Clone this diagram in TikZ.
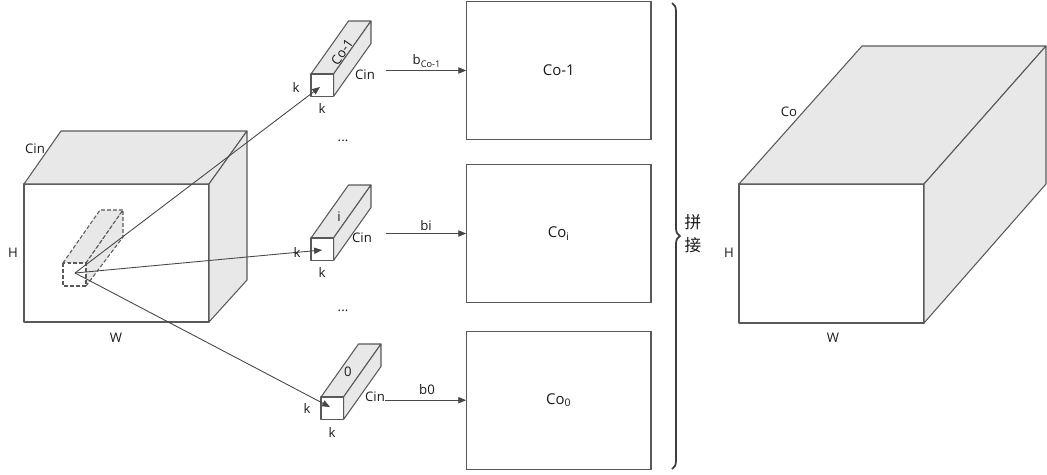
\documentclass[tikz,border=0pt]{standalone}
\usepackage{fontspec}
\setmainfont{Open Sans}
\newfontfamily\cjk{Noto Sans CJK SC}
\usetikzlibrary{arrows.meta,decorations.pathreplacing,positioning}
\definecolor{linegray}{HTML}{595959}
\definecolor{facegray}{HTML}{E8E8E8}
\definecolor{textgray}{HTML}{1A1A1A}

\begin{document}
\begin{tikzpicture}[x=0.02cm,y=-0.02cm]
\tikzstyle{every node}=[font=\fontsize{7.5}{9}\selectfont, text=textgray, inner sep=1pt]
\tikzstyle{face}=[draw=linegray, fill=facegray, line width=0.6pt, line join=round]
\tikzstyle{window}=[face, dash pattern=on 2.2pt off 1.2pt]
\tikzstyle{feed}=[draw=linegray!80!black, line width=0.5pt, -{Triangle[length=4.5pt,width=3.6pt]}]
\tikzstyle{outbox}=[draw=linegray, line width=0.6pt, minimum width=3.686cm, minimum height=2.76cm, inner sep=0pt, font=\fontsize{8.5}{10}\selectfont]
\useasboundingbox (0,0) rectangle (1047,474);

% input feature map
\draw[face, fill=white] (24,184) rectangle (209,322);
\draw[face] (24,184) -- (61,131) -- (247,131) -- (209,184) -- cycle;
\draw[face] (209,184) -- (247,131) -- (247,280) -- (209,322) -- cycle;
\node (cinL) at (35,149) {Cin};
\node (hL) at (13,253) {H};
\node (wL) at (116,338) {W};

% sliding window
\draw[window] (63,263) -- (100,210) -- (123,210) -- (86,263) -- cycle;
\draw[window] (86,263) -- (123,210) -- (123,237) -- (86,286) -- cycle;
\draw[window, fill=white] (63,263) rectangle (86,286);
\coordinate (src) at (75,273);

% kernels
\foreach \kx/\ky in {311/74, 311/238, 321/397}{
  \draw[face] (\kx,\ky) -- ++(37.5,-53) -- ++(22.5,0) -- ++(-37.5,53) -- cycle;
  \draw[face] (\kx+22.5,\ky) -- ++(37.5,-53) -- ++(0,22.5) -- ++(-37.5,53) -- cycle;
  \draw[face, fill=white] (\kx,\ky) rectangle ++(22.5,22.5);
}
\coordinate (ktop) at (320,87);
\coordinate (kmid) at (322,250);
\coordinate (kbot) at (330,407);
\draw[feed] (src) -- (ktop);
\draw[feed] (src) -- (kmid);
\draw[feed] (src) -- (kbot);

\node[rotate=55] (ntop) at (342,52) {Co-1};
\node (nmid) at (339,217) {i};
\node (nbot) at (348,372) {0};
\node (kaTop) at (296,87) {k};
\node (kbTop) at (322,108) {k};
\node (kaMid) at (297,252) {k};
\node (kbMid) at (322,272) {k};
\node (kaBot) at (307,408) {k};
\node (kbBot) at (332,432) {k};
\node (cinTop) at (365,75) {Cin};
\node (cinMid) at (362,238) {Cin};
\node (cinBot) at (375,397) {Cin};
\node (dotsA) at (343,141) {...};
\node (dotsB) at (343,311) {...};

% output channels
\node[outbox] (otop) at (558.85,70.5) {Co-1};
\node[outbox] (omid) at (558.85,233.5) {Co\textsubscript{i}};
\node[outbox] (obot) at (558.85,400.2) {Co\textsubscript{0}};
\coordinate (btop) at (386,70.5);
\coordinate (bmid) at (386,233.5);
\coordinate (bbot) at (385,400.2);
\draw[feed] (btop) -- (otop.west);
\draw[feed] (bmid) -- (omid.west);
\draw[feed] (bbot) -- (obot.west);
\node (lbTop) at (427,61) {b\textsubscript{Co-1}};
\node (lbMid) at (426,226) {bi};
\node (lbBot) at (427,390) {b0};

% concatenation
\draw[draw=linegray!70!black, line width=1pt, decorate, decoration={brace, amplitude=4.5pt}] (672,3) -- (672,469);
\node[font=\cjk\fontsize{9.5}{13}\selectfont, align=center] (joinL) at (693,234) {拼\\接};

% output feature map
\draw[face, fill=white] (739,184) rectangle (924,323);
\draw[face] (739,184) -- (862,46) -- (1046,46) -- (924,184) -- cycle;
\draw[face] (924,184) -- (1046,46) -- (1046,184) -- (924,323) -- cycle;
\node (coR) at (789,112) {Co};
\node (hR) at (729,253) {H};
\node (wR) at (833,338) {W};
\end{tikzpicture}
\end{document}
